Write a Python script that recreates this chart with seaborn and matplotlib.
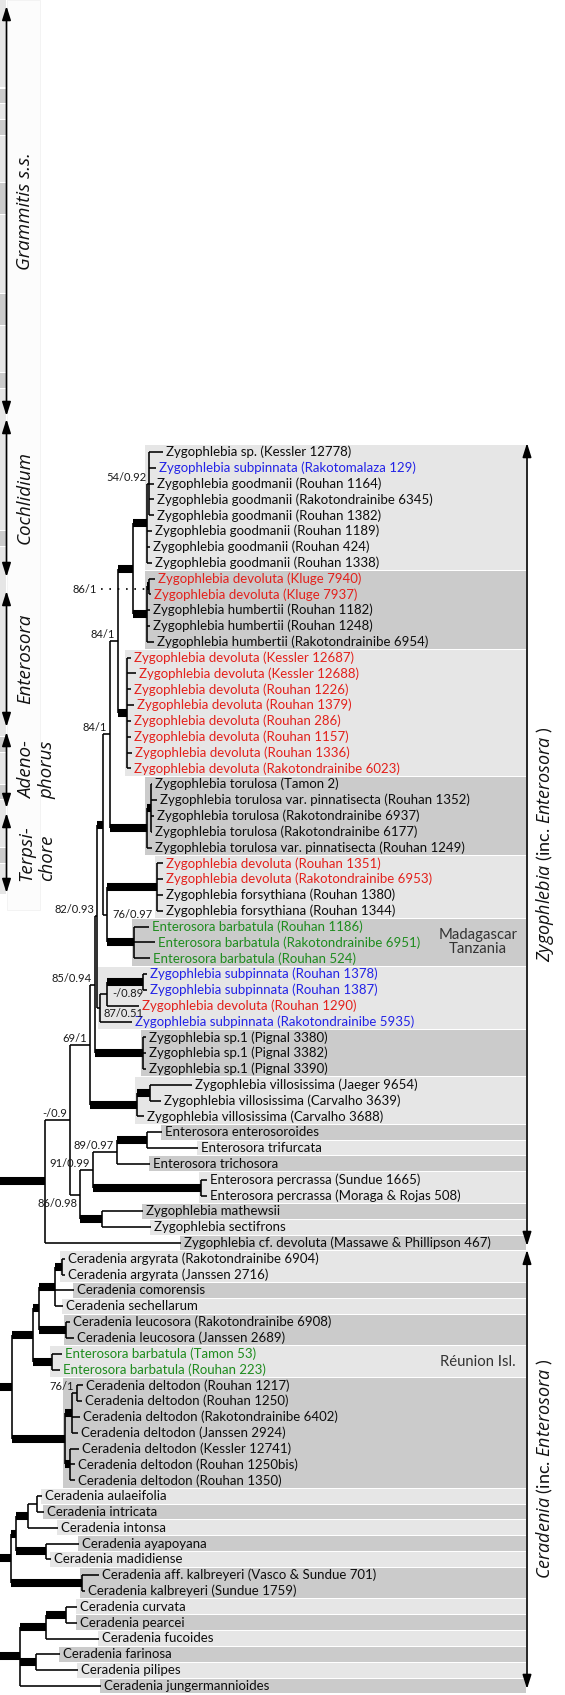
import matplotlib
matplotlib.use('Agg')
import matplotlib.pyplot as plt
import seaborn as sns
from matplotlib.patches import Rectangle

sns.set_theme(style='white')
plt.rcParams['font.family'] = ['Lato', 'DejaVu Sans']
plt.rcParams['mathtext.fontset'] = 'custom'
plt.rcParams['mathtext.it'] = 'Open Sans:italic'
plt.rcParams['mathtext.rm'] = 'Open Sans'

# taxa, top to bottom
taxa = [
    'Zygophlebia sp. (Kessler 12778)',
    'Zygophlebia subpinnata (Rakotomalaza 129)',
    'Zygophlebia goodmanii (Rouhan 1164)',
    'Zygophlebia goodmanii (Rakotondrainibe 6345)',
    'Zygophlebia goodmanii (Rouhan 1382)',
    'Zygophlebia goodmanii (Rouhan 1189)',
    'Zygophlebia goodmanii (Rouhan 424)',
    'Zygophlebia goodmanii (Rouhan 1338)',
    'Zygophlebia devoluta (Kluge 7940)',
    'Zygophlebia devoluta (Kluge 7937)',
    'Zygophlebia humbertii (Rouhan 1182)',
    'Zygophlebia humbertii (Rouhan 1248)',
    'Zygophlebia humbertii (Rakotondrainibe 6954)',
    'Zygophlebia devoluta (Kessler 12687)',
    'Zygophlebia devoluta (Kessler 12688)',
    'Zygophlebia devoluta (Rouhan 1226)',
    'Zygophlebia devoluta (Rouhan 1379)',
    'Zygophlebia devoluta (Rouhan 286)',
    'Zygophlebia devoluta (Rouhan 1157)',
    'Zygophlebia devoluta (Rouhan 1336)',
    'Zygophlebia devoluta (Rakotondrainibe 6023)',
    'Zygophlebia torulosa (Tamon 2)',
    'Zygophlebia torulosa var. pinnatisecta (Rouhan 1352)',
    'Zygophlebia torulosa (Rakotondrainibe 6937)',
    'Zygophlebia torulosa (Rakotondrainibe 6177)',
    'Zygophlebia torulosa var. pinnatisecta (Rouhan 1249)',
    'Zygophlebia devoluta (Rouhan 1351)',
    'Zygophlebia devoluta (Rakotondrainibe 6953)',
    'Zygophlebia forsythiana (Rouhan 1380)',
    'Zygophlebia forsythiana (Rouhan 1344)',
    'Enterosora barbatula (Rouhan 1186)',
    'Enterosora barbatula (Rakotondrainibe 6951)',
    'Enterosora barbatula (Rouhan 524)',
    'Zygophlebia subpinnata (Rouhan 1378)',
    'Zygophlebia subpinnata (Rouhan 1387)',
    'Zygophlebia devoluta (Rouhan 1290)',
    'Zygophlebia subpinnata (Rakotondrainibe 5935)',
    'Zygophlebia sp.1 (Pignal 3380)',
    'Zygophlebia sp.1 (Pignal 3382)',
    'Zygophlebia sp.1 (Pignal 3390)',
    'Zygophlebia villosissima (Jaeger 9654)',
    'Zygophlebia villosissima (Carvalho 3639)',
    'Zygophlebia villosissima (Carvalho 3688)',
    'Enterosora enterosoroides',
    'Enterosora trifurcata',
    'Enterosora trichosora',
    'Enterosora percrassa (Sundue 1665)',
    'Enterosora percrassa (Moraga & Rojas 508)',
    'Zygophlebia mathewsii',
    'Zygophlebia sectifrons',
    'Zygophlebia cf. devoluta (Massawe & Phillipson 467)',
    'Ceradenia argyrata (Rakotondrainibe 6904)',
    'Ceradenia argyrata (Janssen 2716)',
    'Ceradenia comorensis',
    'Ceradenia sechellarum',
    'Ceradenia leucosora (Rakotondrainibe 6908)',
    'Ceradenia leucosora (Janssen 2689)',
    'Enterosora barbatula (Tamon 53)',
    'Enterosora barbatula (Rouhan 223)',
    'Ceradenia deltodon (Rouhan 1217)',
    'Ceradenia deltodon (Rouhan 1250)',
    'Ceradenia deltodon (Rakotondrainibe 6402)',
    'Ceradenia deltodon (Janssen 2924)',
    'Ceradenia deltodon (Kessler 12741)',
    'Ceradenia deltodon (Rouhan 1250bis)',
    'Ceradenia deltodon (Rouhan 1350)',
    'Ceradenia aulaeifolia',
    'Ceradenia intricata',
    'Ceradenia intonsa',
    'Ceradenia ayapoyana',
    'Ceradenia madidiense',
    'Ceradenia aff. kalbreyeri (Vasco & Sundue 701)',
    'Ceradenia kalbreyeri (Sundue 1759)',
    'Ceradenia curvata',
    'Ceradenia pearcei',
    'Ceradenia fucoides',
    'Ceradenia farinosa',
    'Ceradenia pilipes',
    'Ceradenia jungermannioides',
]

# row numbers (1-based) printed in colour
red_rows = [9, 10, 14, 15, 16, 17, 18, 19, 20, 21, 27, 28, 36]
blue_rows = [2, 34, 35, 37]
green_rows = [31, 32, 33, 58, 59]

# tree: tips are row numbers, lengths in px, '*' = thick (supported) branch
n133 = ('(((1:14,2:7,3:5,4:5,5:5)sub15:2,6:5,7:3,8:5)n18:14*,'
        '((9:6,10:2)n910:2*,11:3,12:3,13:7)n913:14*)n133:15*')
up84 = '(' + n133 + ',(14:4,15:9,16:4,17:7,18:4,19:4,20:5,21:4)n1421:9*)up84:8'
lo84 = '(' + up84 + ',((22:1,23:6,24:3,25:1)S:4*,26:5)T:37*)lo84:7'
n76 = '((27:6,28:6,29:6,30:6)n2730:50*,(31:15,32:21,33:16)n3133:27*)n76:4'
n82 = ('((' + lo84 + ',' + n76 + ')n100:6*,'
       '(((34:4,35:4)n3435:36*,36:32)A:7,37:32)B:3)n82:2')
n69 = ('((' + n82 + ',(38:3,39:3,40:3)n3840:48*)n85:5,'
       '((41:42,42:11)n4142:13*,43:7)n4143:47*)n69:20')
n86 = ('((((44:15,45:51)n4445:30*,46:33)n89:24,(47:6,48:6)n4748:108*)n91:13,'
       '(49:41,50:49)n4950:22*)n86:10')
zygo = '((' + n69 + ',' + n86 + ')n70:25,51:136)Z:51*'
cera = ('(((((52:3,53:3)n5253:7*,54:19,55:8)C3:16*,(56:4,57:8)n5657:27*)C2:6*,'
        '(58:10,59:8)n5859:19*)C1:21*,'
        '(((60:6,61:5)P:5,62:8,63:6)D1:7*,(64:9,65:5,66:5)D2:5*)D:53*)C0:18*')
cera2 = '((((67:5,68:7)n6768:9,69:30)E1:12*,(70:33,71:5)E2:30*)E3:5*,(72:17,73:3)E4:71*)E0:17*'
cera3 = '(((74:11,75:11)n7475:20*,76:53)F1:26*,(77:24,78:42)F2:16*,79:81)F0:26*'
newick = '(' + zygo + ',' + cera + ',' + cera2 + ',' + cera3 + ');'

# support values (bootstrap / posterior)
support = {'sub15': '54/0.92', 'n910': '86/1', 'up84': '84/1', 'lo84': '84/1',
           'n82': '82/0.93', 'n76': '76/0.97', 'n85': '85/0.94', 'A': '-/0.89',
           'B': '87/0.51', 'n69': '69/1', 'n70': '-/0.9', 'n89': '89/0.97',
           'n91': '91/0.99', 'n86': '86/0.98', 'P': '76/1'}
support_side = {'n910': 'dots', 'n76': 'right', 'A': 'right', 'B': 'right_low',
                'n86': 'below'}

# background band groups (row counts), alternating light / dark
band_groups = [8, 5, 8, 5, 4, 3, 4, 3, 3, 1, 1, 1, 2, 1, 1, 1,
               2, 1, 1, 2, 2, 7, 1, 1, 1, 1, 1, 2, 1, 1, 1, 1, 1, 1]

# cropped Grammitis panel at the left edge: run lengths, light / dark
strip_runs = [6, 1, 1, 1, 3, 2, 5, 2, 3, 1, 9, 1, 12, 1, 2, 1, 3, 1, 2]

left_clades = ['Grammitis s.s.', 'Cochlidium', 'Enterosora', 'Adeno-\nphorus', 'Terpsi-\nchore']
left_start = [6, 419, 591, 732, 813]
left_end = [416, 577, 727, 808, 893]

right_genus = ['Zygophlebia', 'Ceradenia']
right_rows = [(1, 51), (52, 79)]

region_labels = ['Madagascar\nTanzania', 'Réunion Isl.']
region_rows = [32, 58.5]

# ---- layout constants
W, H = 565, 1695
ROW0, STEP = 452, 15.82
ROOT_X = -6
BAND_RIGHT = 526
THIN, THICK = 1.15, 5.8
LIGHT, DARK = '#e6e6e6', '#cbcbcb'


def parse(s):
    pos = 0

    def node():
        nonlocal pos
        kids = []
        if s[pos] == '(':
            pos += 1
            while True:
                kids.append(node())
                if s[pos] == ',':
                    pos += 1
                    continue
                pos += 1
                break
        start = pos
        while s[pos] not in ':,);':
            pos += 1
        name = s[start:pos]
        length, thick = 0.0, False
        if s[pos] == ':':
            pos += 1
            start = pos
            while s[pos] not in ',);':
                pos += 1
            ln = s[start:pos]
            if ln.endswith('*'):
                thick, ln = True, ln[:-1]
            length = float(ln)
        return {'name': name, 'kids': kids, 'len': length, 'thick': thick}

    return node()


def layout(nd, x0):
    nd['x'] = x0 + nd['len']
    if nd['kids']:
        for k in nd['kids']:
            layout(k, nd['x'])
        nd['y'] = (nd['kids'][0]['y'] + nd['kids'][-1]['y']) / 2
        nd['rows'] = set().union(*[k['rows'] for k in nd['kids']])
    else:
        nd['row'] = int(nd['name'])
        nd['y'] = ROW0 + (nd['row'] - 1) * STEP
        nd['rows'] = {nd['row']}


def walk(nd, parent=None):
    yield nd, parent
    for k in nd['kids']:
        yield from walk(k, nd)


root = parse(newick)
layout(root, ROOT_X)
nodes = list(walk(root))
tips = {nd['row']: nd for nd, p in nodes if not nd['kids']}
inner = [nd for nd, p in nodes if nd['kids']]

fig = plt.figure(figsize=(W / 100, H / 100), dpi=100)
ax = fig.add_axes([0, 0, 1, 1])
ax.set_xlim(0, W)
ax.set_ylim(H, 0)
ax.axis('off')


def row_y(r):
    return ROW0 + (r - 1) * STEP


# background bands
r = 1
for i, n in enumerate(band_groups):
    rows = set(range(r, r + n))
    if n > 1:
        mrca = min((nd for nd in inner if rows <= nd['rows']), key=lambda nd: len(nd['rows']))
        x0 = mrca['x'] - 2
    else:
        x0 = tips[r]['x'] - 1
    y0 = row_y(r) - STEP / 2 + 0.5
    y1 = row_y(r + n - 1) + STEP / 2 - 0.5
    ax.add_patch(Rectangle((x0, y0), BAND_RIGHT - x0, y1 - y0,
                           facecolor=LIGHT if i % 2 == 0 else DARK, edgecolor='none', zorder=0))
    r += n

# left strip (cut-off rows of the Grammitis part) and bracket panel
ax.add_patch(Rectangle((7, 0), 33, 910, facecolor='#fcfcfc', edgecolor='#f2f2f2', lw=0.6, zorder=0))
y = 88 - 6 * STEP
for i, n in enumerate(strip_runs):
    ax.add_patch(Rectangle((0, y + 0.5), 6, n * STEP - 1,
                           facecolor=LIGHT if i % 2 == 0 else DARK, edgecolor='none', zorder=0))
    y += n * STEP

# branches
for nd, p in nodes:
    if p is not None:
        ln = ax.hlines(nd['y'], p['x'], nd['x'], colors='black',
                       lw=THICK if nd['thick'] else THIN, zorder=2)
        ln.set_capstyle('butt')
    if nd['kids']:
        ax.vlines(nd['x'], nd['kids'][0]['y'], nd['kids'][-1]['y'], colors='black',
                  lw=THIN, zorder=2)

# tip labels
for row, nd in tips.items():
    col = '#e3211c' if row in red_rows else '#2323e6' if row in blue_rows else \
        '#1e8c1e' if row in green_rows else '#0d0d0d'
    ax.text(nd['x'] + 3, nd['y'], taxa[row - 1], fontsize=9.5, color=col,
            ha='left', va='center', zorder=3)

# support values
for nd in inner:
    lab = support.get(nd['name'])
    if lab is None:
        continue
    side = support_side.get(nd['name'], 'left')
    kw = dict(fontsize=8, color='#1a1a1a', zorder=3)
    if side == 'left':
        ax.text(nd['x'] - 3, nd['y'] - 1, lab, ha='right', va='bottom', **kw)
    elif side == 'below':
        ax.text(nd['x'] - 3, nd['y'] + 3, lab, ha='right', va='top', **kw)
    elif side == 'right':
        ax.text(nd['x'] + 5, nd['y'], lab, ha='left', va='center', **kw)
    elif side == 'right_low':
        ax.text(nd['x'] + 3, nd['y'] + 6, lab, ha='left', va='center', **kw)
    else:
        ax.plot([nd['x'] - 48, nd['x'] - 3], [nd['y'] + 2.5] * 2, color='black',
                lw=1.2, ls=(0, (1, 4)), zorder=3)
        ax.text(nd['x'] - 52, nd['y'] + 3, lab, ha='right', va='center', **kw)

# region notes
for lab, rr in zip(region_labels, region_rows):
    ax.text(478, row_y(rr), lab, fontsize=10.7, color='#333333', ha='center',
            va='center', linespacing=1.0, multialignment='center', zorder=3)


def bracket(x, y0, y1):
    ax.annotate('', xy=(x, y1), xytext=(x, y0),
                arrowprops=dict(arrowstyle='<|-|>,head_length=0.7,head_width=0.22',
                                color='black', lw=1.2, shrinkA=0, shrinkB=0), zorder=4)


# left clade brackets
for lab, y0, y1 in zip(left_clades, left_start, left_end):
    bracket(6.5, y0, y1)
    tx = 37 if '\n' in lab else 25
    ax.text(tx, (y0 + y1) / 2, lab, rotation=90, ha='center', va='center',
            multialignment='left', family='Open Sans', style='italic',
            fontsize=13.5, color='#111111')

# right genus brackets
for gen, (ra, rb) in zip(right_genus, right_rows):
    y0, y1 = row_y(ra) - 9, row_y(rb) + 3
    bracket(527, y0, y1)
    ax.text(545, (y0 + y1) / 2, r'$\it{' + gen + r'}$ (inc. $\it{Enterosora}$ )',
            rotation=90, ha='center', va='center', fontsize=13, color='#111111')

fig.savefig('out.png', dpi=100)
